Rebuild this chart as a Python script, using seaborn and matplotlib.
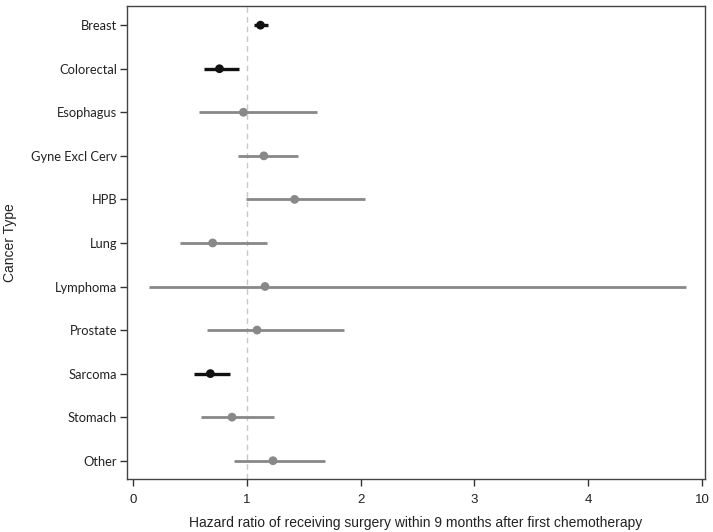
import numpy as np
import pandas as pd
import matplotlib
matplotlib.use("Agg")
import matplotlib.pyplot as plt
import seaborn as sns

# values
cancer_types = ["Breast", "Colorectal", "Esophagus", "Gyne Excl Cerv", "HPB", "Lung",
                "Lymphoma", "Prostate", "Sarcoma", "Stomach", "Other"]
hazard_ratio = [1.12, 0.76, 0.97, 1.15, 1.42, 0.70, 1.16, 1.09, 0.68, 0.87, 1.23]
ci_lower = [1.06, 0.62, 0.58, 0.92, 0.99, 0.41, 0.14, 0.65, 0.54, 0.60, 0.89]
ci_upper = [1.19, 0.93, 1.62, 1.45, 2.04, 1.18, 9.17, 1.85, 0.85, 1.24, 1.69]
significant = [True, True, False, False, False, False, False, False, True, False, False]
x_ticks = [0, 1, 2, 3, 4, 10]

df = pd.DataFrame({"type": cancer_types, "hr": hazard_ratio,
                   "lo": ci_lower, "hi": ci_upper, "sig": significant})
df["y"] = np.arange(len(df))

sns.set_theme(style="white")
plt.rcParams['font.family'] = ['Liberation Sans', 'DejaVu Sans']

# broken axis: 0-4 linear, 4-10 squeezed into one unit
def fwd(x):
    x = np.asarray(x, dtype=float)
    return np.where(x <= 4, x, 4 + (x - 4) / 6)

def inv(x):
    x = np.asarray(x, dtype=float)
    return np.where(x <= 4, x, 4 + (x - 4) * 6)

fig, ax = plt.subplots(figsize=(7.13, 5.32), dpi=100)
fig.subplots_adjust(left=0.178, right=0.989, bottom=0.0996, top=0.9887)
ax.set_xscale("function", functions=(fwd, inv))

ax.axvline(1, color="#c8c8c8", lw=1, ls=(0, (4, 3)), zorder=0)

colors = {True: "#111111", False: "#888888"}
for sig, sub in df.groupby("sig"):
    ax.hlines(sub["y"], sub["lo"], sub["hi"], color=colors[sig],
              lw=2.4 if sig else 2.0, zorder=2)
sns.scatterplot(data=df, x="hr", y="y", hue="sig", palette=colors, s=40,
                edgecolor="none", legend=False, ax=ax, zorder=3)

ax.set_xlim(-0.053, inv(5.026))
ax.set_ylim(len(df) - 1 + 0.42, -0.44)
ax.set_xticks(x_ticks)
ax.set_xticklabels([str(t) for t in x_ticks])
ax.set_yticks(df["y"])
ax.set_yticklabels(cancer_types, family=['Lato', 'DejaVu Sans'], fontsize=9.3)
ax.tick_params(axis="both", which="both", direction="out", length=5, width=1,
               color="#333333", labelcolor="#222222", bottom=True, left=True)
ax.tick_params(axis="x", pad=6, labelsize=9.5)
ax.tick_params(axis="y", pad=2)
ax.minorticks_off()
for s in ax.spines.values():
    s.set_color("#444444")
    s.set_linewidth(1)

ax.set_xlabel("Hazard ratio of receiving surgery within 9 months after first chemotherapy",
              fontsize=10, color="#222222", labelpad=7)
ax.set_ylabel("Cancer Type", fontsize=10, color="#222222")
ax.yaxis.set_label_coords(-0.190, 0.5)

plt.savefig("out.png", dpi=100)
